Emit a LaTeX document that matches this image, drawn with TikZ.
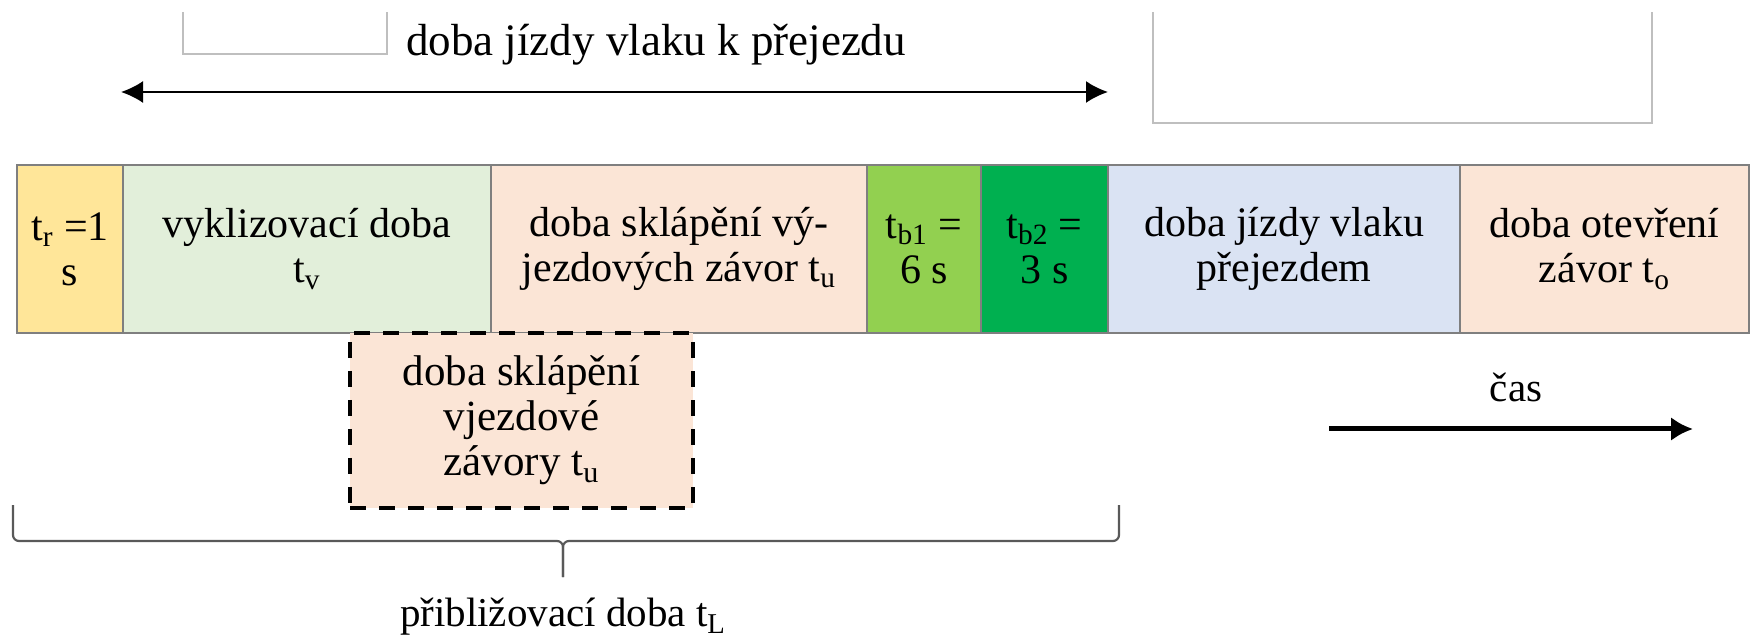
\documentclass[tikz,border=0pt]{standalone}
\usepackage{fontspec}
\setmainfont{Liberation Serif}
\usetikzlibrary{positioning, arrows.meta}
\definecolor{tryellow}{HTML}{FFE699}
\definecolor{tvgreen}{HTML}{E2EFDA}
\definecolor{tupeach}{HTML}{FBE5D6}
\definecolor{tbgreen}{HTML}{92D050}
\definecolor{tbdark}{HTML}{00B050}
\definecolor{jizdablue}{HTML}{DAE3F3}
\definecolor{barline}{HTML}{7F7F7F}
\tikzstyle{cell} = [rectangle, minimum height=84pt, inner sep=0pt, outer sep=0pt, align=center, draw=barline, line width=1pt, font=\fontsize{21}{22.5}\selectfont]
\tikzstyle{dashcell} = [rectangle, minimum width=171.5pt, minimum height=87.5pt, inner sep=0pt, outer sep=0pt, align=center, draw=black, line width=2pt, dash pattern=on 8pt off 6.5pt, fill=tupeach, font=\fontsize{21.5}{22.5}\selectfont]
\tikzstyle{frame} = [draw=black!25, line width=0.6pt]
\tikzstyle{label} = [font=\fontsize{20.5}{22.5}\selectfont]
\tikzstyle{arrow} = [line width=1pt, <->, >={Latex[length=11pt,width=11pt]}]
\tikzstyle{timearrow} = [line width=2.5pt, ->, >={Latex[length=11pt,width=12pt]}]
\tikzstyle{bracket} = [draw=black!65, line width=1.1pt, rounded corners=3pt]
\begin{document}
\begin{tikzpicture}[x=0.5pt, y=-0.5pt]
\useasboundingbox (0,0) rectangle (1758,636);

% empty frames at the top
\draw[frame] (183,12) |- (387,54) -- (387,12);
\draw[frame] (1153,12) |- (1652,123) -- (1652,12);

\node (lbltop) [label, font=\fontsize{22.5}{24}\selectfont] at (656,45) {doba jízdy vlaku k přejezdu};
\coordinate (arrL) at (121,92);
\coordinate (arrR) at (1108,92);
\draw[arrow] (arrL) -- (arrR);

% time bar
\node (tr) [cell, fill=tryellow, minimum width=53pt, anchor=north west] at (17,165) {t\textsubscript{r} =1\\s};
\node (tv) [cell, fill=tvgreen, minimum width=184pt, right=0pt of tr] {vyklizovací doba\\t\textsubscript{v}};
\node (tu) [cell, fill=tupeach, minimum width=188pt, right=0pt of tv] {doba sklápění vý-\\jezdových závor t\textsubscript{u}};
\node (tb1) [cell, fill=tbgreen, minimum width=57pt, right=0pt of tu] {t\textsubscript{b1} =\\6 s};
\node (tb2) [cell, fill=tbdark, minimum width=63.5pt, right=0pt of tb1] {t\textsubscript{b2} =\\3 s};
\node (jizda) [cell, fill=jizdablue, minimum width=176pt, right=0pt of tb2] {doba jízdy vlaku\\přejezdem};
\node (to) [cell, fill=tupeach, minimum width=144.5pt, right=0pt of jizda] {doba otevření\\závor t\textsubscript{o}};

\node (tuin) [dashcell, anchor=north west] at (350,333) {doba sklápění\\vjezdové\\závory t\textsubscript{u}};

% approach time
\coordinate (brL) at (13,505);
\coordinate (brR) at (1119,505);
\coordinate (brM) at (563,541);
\coordinate (brTip) at (563,577);
\draw[bracket] (brL) |- (brM) -- (brTip);
\draw[bracket] (brR) |- (brM) -- (brTip);
\node (tL) [label] at (563,617) {přibližovací doba t\textsubscript{L}};

% time axis
\node (cas) [label] at (1516,387) {čas};
\coordinate (casL) at (1329,429);
\coordinate (casR) at (1693,429);
\draw[timearrow] (casL) -- (casR);

\end{tikzpicture}
\end{document}
